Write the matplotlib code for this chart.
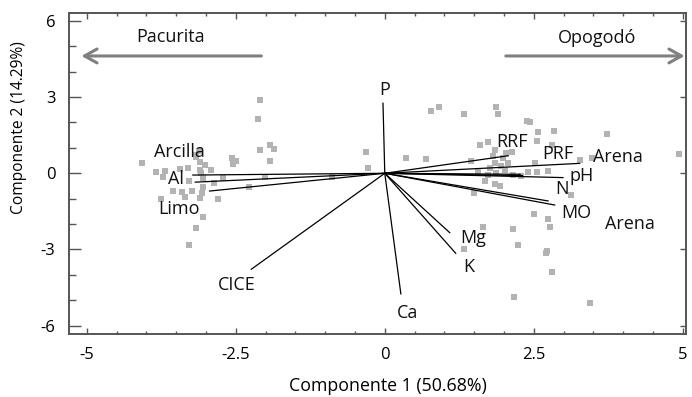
import numpy as np
import matplotlib
matplotlib.use("Agg")
import matplotlib.pyplot as plt
from matplotlib.ticker import MultipleLocator

plt.rcParams['font.family'] = ['Open Sans', 'DejaVu Sans']
plt.rcParams['axes.unicode_minus'] = False

# sample scores (component 1, component 2)
score_x = [-2.09, -2.12, -2.09, -1.93, -1.86, -1.93, -2.57, -2.50, -2.55, -4.08,
           -3.84, -3.72, -3.69, -3.43, -3.30, -3.16, -3.10, -3.02, -3.10, -3.08,
           -2.91, -3.29, -3.05, -2.71, -2.86, -2.01, -0.89, -0.31, -0.28, -2.27,
           -3.05, -3.55, -3.41, -3.23, -3.06, -3.36, -3.10, -3.75, -2.80, -3.05,
           -3.16, -3.29, -3.12, -3.83, -3.16,
           0.77, 0.91, 1.33, 1.86, 1.90, 2.38, 2.44, 2.57, 2.84, 3.73,
           1.74, 1.59, 2.56, 2.80, 0.36, 0.70, 1.44, 1.85, 2.13, 1.82,
           1.99, 2.07, 1.85, 1.76, 2.01, 1.57, 1.73, 1.87, 2.15, 2.40,
           2.56, 2.52, 2.74, 3.28, 3.48, 4.94, 1.68, 1.85, 1.93, 1.50,
           3.13, 2.50, 2.74, 2.77, 1.65, 2.15, 2.23, 2.72, 2.70, 1.33,
           2.81, 2.16, 3.44, 2.29, 2.04, 1.95]
score_y = [2.89, 2.13, 0.92, 1.10, 0.97, 0.47, 0.59, 0.48, 0.37, 0.42,
           0.06, -0.16, 0.09, 0.16, 0.20, 0.72, 0.46, 0.33, 0.13, 0.00,
           0.13, -0.29, -0.20, -0.20, -0.37, -0.16, -0.16, 0.84, 0.20, -0.53,
           -0.53, -0.68, -0.72, -0.68, -0.79, -0.94, -0.98, -1.02, -1.02, -1.71,
           -2.17, -2.82, 0.89, 0.04, 0.65,
           2.47, 2.60, 2.32, 2.60, 2.33, 2.07, 2.03, 1.64, 1.68, 1.54,
           1.25, 1.11, 1.27, 1.11, 0.61, 0.56, 0.48, 0.92, 0.85, 0.69,
           0.59, 0.39, 0.39, 0.20, 0.13, 0.09, -0.07, 0.00, -0.07, 0.04,
           0.04, 0.39, 0.09, 0.52, 0.59, 0.75, -0.30, -0.43, -0.49, -0.76,
           -0.85, -1.61, -1.80, -2.10, -2.10, -2.20, -2.82, -3.06, -3.15, -2.99,
           -3.90, -4.87, -5.09, -0.09, 0.80, 0.28]

# variable loadings
var_names = ['Arcilla', 'Al', 'Limo', 'CICE', 'P', 'Ca', 'Mg', 'K',
             'RRF', 'PRF', 'Arena', 'pH', 'N', 'MO', 'Arena']
load_x = [-3.22, -3.18, -2.94, -2.24, -0.03, 0.27, 1.09, 1.19,
          2.07, 3.27, 2.27, 2.31, 2.99, 2.74, 2.85]
load_y = [-0.07, -0.35, -0.70, -3.78, 2.76, -4.75, -2.34, -3.15,
          0.69, 0.39, -0.04, -0.09, -0.17, -1.09, -1.25]

# where each variable name sits (baseline, centred)
label_x = [-3.45, -3.50, -3.46, -2.48, 0.0, 0.38, 1.48, 1.41,
           2.13, 2.91, 3.92, 3.31, 2.97, 3.22, 4.11]
label_y = [0.65, -0.43, -1.60, -4.59, 3.08, -5.69, -2.73, -3.87,
           1.05, 0.55, 0.46, -0.30, -0.81, -1.77, -2.19]

groups = ['Pacurita', 'Opogodó']

fig = plt.figure(figsize=(6.92, 3.97), dpi=100)
ax = fig.add_axes([0.1004, 0.158, 0.8906, 0.8085])

ax.scatter(score_x, score_y, marker='s', s=14, color='#b3b3b3', linewidths=0, zorder=1)

for lx, ly in zip(load_x, load_y):
    ax.plot([0, lx], [0, ly], color='black', lw=0.9, zorder=2)

for name, tx, ty in zip(var_names, label_x, label_y):
    ax.text(tx, ty, name, ha='center', va='baseline', fontsize=13, color='#111111', zorder=3)

arrow = dict(arrowstyle='->, head_length=0.45, head_width=0.25', color='#808080',
             lw=2.2, shrinkA=0, shrinkB=0, mutation_scale=20)
ax.annotate('', xy=(-5.09, 4.62), xytext=(-2.07, 4.62), arrowprops=arrow)
ax.annotate('', xy=(5.03, 4.62), xytext=(2.03, 4.62), arrowprops=arrow)
ax.text(-3.59, 5.18, groups[0], ha='center', va='baseline', fontsize=13, color='#111111')
ax.text(3.56, 5.12, groups[1], ha='center', va='baseline', fontsize=13, color='#111111')

ax.set_xlim(-5.29, 5.05)
ax.set_ylim(-6.34, 6.30)
ax.xaxis.set_major_locator(MultipleLocator(2.5))
ax.xaxis.set_minor_locator(MultipleLocator(0.5))
ax.yaxis.set_major_locator(MultipleLocator(3))
ax.yaxis.set_minor_locator(MultipleLocator(1))
ax.set_xticks([-5, -2.5, 0, 2.5, 5])
ax.set_xticklabels(['-5', '-2.5', '0', '2.5', '5'])

spine_col = '#555555'
for s in ax.spines.values():
    s.set_color(spine_col)
    s.set_linewidth(1.4)

ax.tick_params(axis='x', which='major', direction='in', length=4.5, width=1, color=spine_col,
               labelsize=12, pad=9)
ax.tick_params(axis='x', which='minor', direction='in', length=2.5, width=1, color=spine_col)
ax.tick_params(axis='y', which='major', direction='in', length=8.5, width=1, color=spine_col,
               labelsize=12, pad=10)
ax.tick_params(axis='y', which='minor', direction='in', length=5, width=1, color=spine_col)

top = ax.secondary_xaxis('top')
top.xaxis.set_major_locator(MultipleLocator(2.5))
top.xaxis.set_minor_locator(MultipleLocator(0.5))
top.tick_params(which='major', direction='in', length=4, width=1, color=spine_col, labeltop=False)
top.tick_params(which='minor', direction='in', length=2.5, width=1, color=spine_col)
top.spines['top'].set_visible(False)

right = ax.secondary_yaxis('right')
right.yaxis.set_major_locator(MultipleLocator(3))
right.yaxis.set_minor_locator(MultipleLocator(1))
right.tick_params(which='major', direction='in', length=4, width=1, color=spine_col, labelright=False)
right.tick_params(which='minor', direction='in', length=0)
right.spines['right'].set_visible(False)

ax.set_xlabel('Componente 1 (50.68%)', fontsize=12.8)
ax.xaxis.set_label_coords(0.517, -0.133)
ax.set_ylabel('Componente 2 (14.29%)', fontsize=11.2)
ax.yaxis.set_label_coords(-0.069, 0.644)

fig.savefig('out.png', dpi=100)
